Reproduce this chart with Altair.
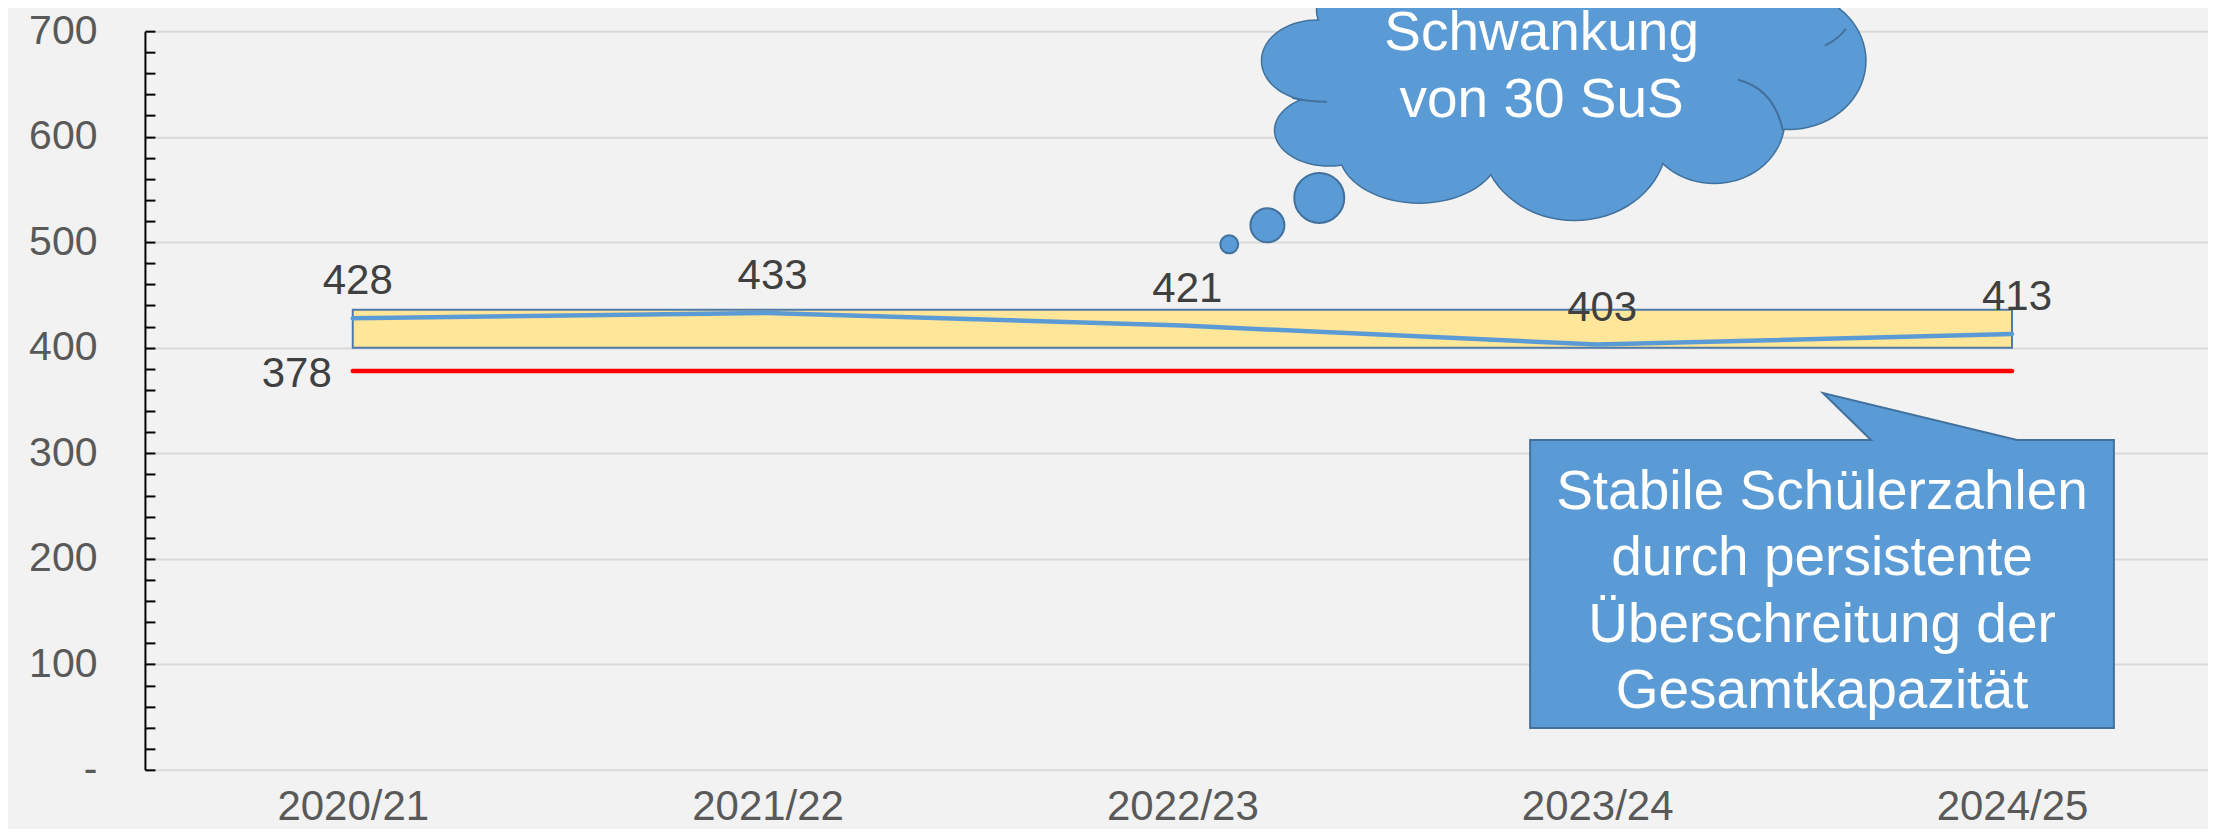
import json
import math
import altair as alt
import pandas as pd

# ---------------- data ----------------
years = ["2020/21", "2021/22", "2022/23", "2023/24", "2024/25"]
students = [428, 433, 421, 403, 413]
capacity = 378
band_low = 400
band_high = 436

# ---------------- annotation geometry (data units: x = category index, y = students) ----
cloud_x = [2.325, 2.354, 2.571, 2.945, 3.282, 3.463, 3.390, 2.554, 2.933, 2.908]
cloud_y = [672, 606, 587, 597, 616, 672, 748, 720, 767, 672]
cloud_rx = [55, 54, 80, 92, 70, 76, 90, 95, 120, 230]
cloud_ry = [40, 35, 52, 80, 63, 68, 60, 50, 70, 110]

bubble_x = [2.113, 2.205, 2.330]
bubble_y = [498, 516, 542]
bubble_r = [9, 17, 25]

cloud_text = ["Schwankung", "von 30 SuS"]
cloud_text_x = 2.866
cloud_text_y = [682, 618.5]

box_text = ["Stabile Schülerzahlen", "durch persistente", "Überschreitung der", "Gesamtkapazität"]
box_text_x = 3.542
box_text_y = [247.2, 184.7, 121.2, 58.7]
box_x = 3.542
box_y = 198.4
# callout outline in pixels relative to its centre (wedge rectangle)
box_outline = [(-292, -120.5), (49, -120.5), (1, -167.5), (195, -120.5),
               (292, -120.5), (292, 167.5), (-292, 167.5)]
box_half = 292

# inner arcs of the cloud, pixels relative to the cloud centre: (start, control, end)
arc_anchor_x = 2.908
arc_anchor_y = 672
arc_half = 320
cloud_arcs = [((-267, 37), (-252, 41), (-232, 41)),
              ((179, 19), (215, 28), (224, 70)),
              ((266, -15), (280, -22), (287, -32))]

W, H = 2064, 739
BLUE = "#5B9BD5"
DARK = "#41719C"
FONT = "Liberation Sans"

idx = list(range(len(years)))
df = pd.DataFrame({"i": idx, "year": years, "n": students})


def ellipse_path(k, n=72):
    pts = []
    for j in range(n):
        t = 2 * math.pi * j / n
        pts.append(f"{math.cos(t):.4f},{k * math.sin(t):.4f}")
    return "M" + "L".join(pts) + "Z"


def nrm(p, h):
    return f"{p[0] / h:.4f},{p[1] / h:.4f}"


cloud_df = pd.DataFrame({
    "x": cloud_x, "y": cloud_y,
    "path": [ellipse_path(ry / rx) for rx, ry in zip(cloud_rx, cloud_ry)],
    "size": [(2 * rx) ** 2 for rx in cloud_rx],
})
arc_path = "".join(f"M{nrm(a, arc_half)}Q{nrm(c, arc_half)} {nrm(b, arc_half)}" for a, c, b in cloud_arcs)
arc_df = pd.DataFrame({"x": [arc_anchor_x], "y": [arc_anchor_y], "path": [arc_path],
                       "size": [(2 * arc_half) ** 2]})
bubble_df = pd.DataFrame({"x": bubble_x, "y": bubble_y,
                          "size": [(2 * r) ** 2 for r in bubble_r]})
ctext_df = pd.DataFrame({"x": [cloud_text_x] * 2, "y": cloud_text_y, "t": cloud_text})
btext_df = pd.DataFrame({"x": [box_text_x] * 4, "y": box_text_y, "t": box_text})
box_path = "M" + "L".join(nrm(p, box_half) for p in box_outline) + "Z"
box_df = pd.DataFrame({"x": [box_x], "y": [box_y], "path": [box_path], "size": [(2 * box_half) ** 2]})
band_df = pd.DataFrame({"x0": [idx[0]], "x1": [idx[-1]], "lo": [band_low], "hi": [band_high]})
cap_df = pd.DataFrame({"x0": [idx[0]], "x1": [idx[-1]], "c": [capacity], "t": [str(capacity)]})

xscale = alt.Scale(domain=[-0.501, 4.4725], nice=False, zero=False)
yscale = alt.Scale(domain=[0, 700], nice=False, zero=True)

xaxis = alt.Axis(values=idx, labelExpr=f"{json.dumps(years)}[round(datum.value)]",
                 grid=False, ticks=False, domain=False, labelFontSize=42,
                 labelColor="#595959", labelFont=FONT, labelBaseline="alphabetic",
                 labelPadding=50, labelFlush=False, labelOverlap=False, title=None)
yaxis = alt.Axis(values=list(range(0, 701, 100)),
                 labelExpr="datum.value == 0 ? '-\u00a0\u00a0' : datum.label",
                 grid=True, gridColor="#D9D9D9", gridWidth=2,
                 domain=True, domainColor="black", domainWidth=2,
                 ticks=False, labelPadding=48, labelFontSize=41,
                 labelColor="#595959", labelFont=FONT, title=None)
tickaxis = alt.Axis(orient="right", offset=-W, values=list(range(0, 701, 20)),
                    ticks=True, tickSize=10, tickWidth=2, tickColor="black",
                    labels=False, domain=False, grid=False, title=None)


def X(f):
    return alt.X(f, type="quantitative", scale=xscale, axis=xaxis)


def Y(f, axis=None):
    return alt.Y(f, type="quantitative", scale=yscale, axis=axis)


band = alt.Chart(band_df).mark_rect(fill="#FFE699", stroke="#4F7BAA", strokeWidth=2).encode(
    x=X("x0"), x2="x1", y=Y("lo", tickaxis), y2="hi")

cap = alt.Chart(cap_df).mark_rule(color="#FF0000", strokeWidth=4.5, strokeCap="round").encode(
    x=X("x0"), x2="x1", y=Y("c"))
cap_label = alt.Chart(cap_df).mark_text(align="right", baseline="middle", dx=-21, dy=3,
                                        fontSize=42, color="#404040", font=FONT).encode(
    x=X("x0"), y=Y("c"), text="t:N")

line = alt.Chart(df).mark_line(color=BLUE, strokeWidth=4.5, strokeCap="round").encode(
    x=X("i"), y=Y("n", yaxis))
labels = alt.Chart(df).mark_text(baseline="alphabetic", dy=-24, dx=5, fontSize=42,
                                 color="#404040", font=FONT).encode(
    x=X("i"), y=Y("n"), text="n:Q")

bubbles = alt.Chart(bubble_df).mark_point(shape="circle", filled=True, opacity=1, fill=BLUE,
                                          stroke=DARK, strokeWidth=2).encode(
    x=X("x"), y=Y("y"), size=alt.Size("size:Q", scale=None, legend=None))

cloud1 = alt.Chart(cloud_df).mark_point(filled=True, opacity=1, fill=BLUE,
                                        stroke=DARK, strokeWidth=3).encode(
    x=X("x"), y=Y("y"), shape=alt.Shape("path:N", scale=None, legend=None),
    size=alt.Size("size:Q", scale=None, legend=None))
cloud2 = alt.Chart(cloud_df).mark_point(filled=True, opacity=1, fill=BLUE,
                                        strokeOpacity=0, strokeWidth=0).encode(
    x=X("x"), y=Y("y"), shape=alt.Shape("path:N", scale=None, legend=None),
    size=alt.Size("size:Q", scale=None, legend=None))
arcs = alt.Chart(arc_df).mark_point(filled=False, opacity=1, fillOpacity=0,
                                    stroke=DARK, strokeWidth=2).encode(
    x=X("x"), y=Y("y"), shape=alt.Shape("path:N", scale=None, legend=None),
    size=alt.Size("size:Q", scale=None, legend=None))
ctext = alt.Chart(ctext_df).mark_text(fontSize=55, color="white", font=FONT,
                                      align="center", baseline="alphabetic").encode(
    x=X("x"), y=Y("y"), text="t:N")

box = alt.Chart(box_df).mark_point(filled=True, opacity=1, fill=BLUE,
                                   stroke=DARK, strokeWidth=2).encode(
    x=X("x"), y=Y("y"), shape=alt.Shape("path:N", scale=None, legend=None),
    size=alt.Size("size:Q", scale=None, legend=None))
btext = alt.Chart(btext_df).mark_text(fontSize=55, color="white", font=FONT,
                                      align="center", baseline="alphabetic").encode(
    x=X("x"), y=Y("y"), text="t:N")

chart = alt.layer(
    band, cap, cap_label, line, labels, bubbles, cloud1, cloud2, arcs, ctext, box, btext
).resolve_axis(y="independent").properties(
    width=W, height=H,
    autosize=alt.AutoSizeParams(type="none"),
    padding={"left": 137, "top": 23, "right": 0, "bottom": 59},
).configure(background="#F1F2F1", font=FONT).configure_view(stroke=None)

chart.save("out.html", embed_options={"renderer": "svg", "actions": False})
